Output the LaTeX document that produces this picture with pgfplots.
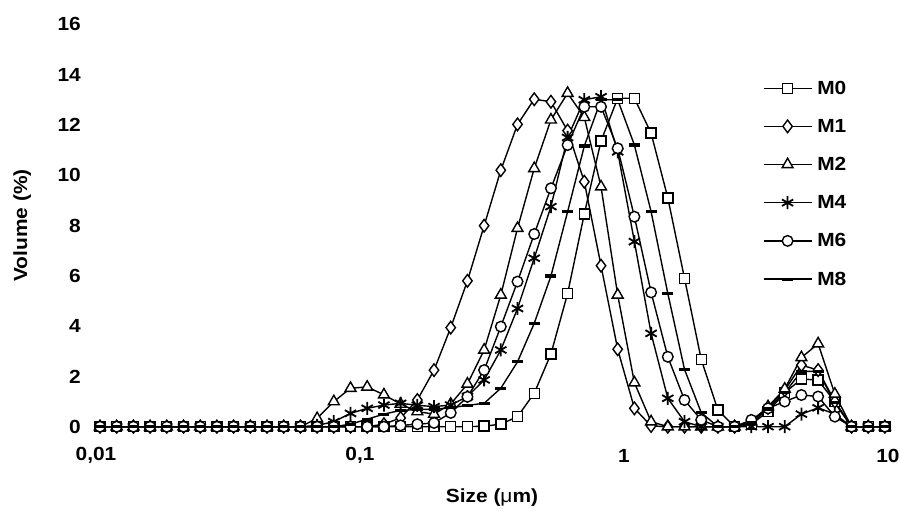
\documentclass[border=0pt]{standalone}
\usepackage{fontspec}
\setmainfont{Liberation Sans}[FakeStretch=1.1]
\usepackage{pgfplots}
\pgfplotsset{compat=1.18}
\usepackage{pgfplotstable}

\pgfplotstableread{
x        M0     M1     M2     M4     M6     M8
0.010355 0      0      0      0      0      0
0.011976 0      0      0      0      0      0
0.013856 0      0      0      0      0      0
0.016030 0      0      0      0      0      0
0.018543 0      0      0      0      0      0
0.021454 0      0      0      0      0      0
0.024817 0      0      0      0      0      0
0.028708 0      0      0      0      0      0
0.033212 0      0      0      0      0      0
0.038420 0      0      0      0      0      0
0.044446 0      0      0      0      0      0
0.051413 0      0      0      0      0      0
0.059475 0      0      0      0      0      0
0.068803 0      0      0.33   0.05   0      0
0.079595 0      0      1.0    0.2    0      0
0.092071 0      0      1.53   0.53   0      0.1
0.10648  0      0      1.58   0.73   0      0.3
0.12321  0      0.1    1.27   0.86   0      0.5
0.14253  0      0.35   0.9    0.93   0.05   0.65
0.16488  0      1.06   0.6    0.85   0.1    0.68
0.19074  0      2.25   0.5    0.8    0.15   0.7
0.22065  0      3.94   0.9    0.86   0.55   0.75
0.25525  0      5.8    1.7    1.2    1.19   0.85
0.29528  0.02   7.99   3.05   1.86   2.25   0.93
0.34158  0.1    10.2   5.24   3.05   3.98   1.53
0.39512  0.4    12.02  7.89   4.7    5.77   2.58
0.45707  1.33   13.02  10.27  6.7    7.66   4.11
0.52874  2.89   12.92  12.2   8.75   9.48   5.99
0.61163  5.3    11.77  13.26  11.5   11.2   8.55
0.70755  8.46   9.74   12.3   13.0   12.72  11.16
0.81848  11.36  6.4    9.54   13.12  12.72  13.0
0.94659  13.06  3.08   5.24   10.93  11.07  13.0
1.0950   13.06  0.73   1.75   7.36   8.35   11.2
1.2667   11.67  0.03   0.2    3.71   5.34   8.55
1.4654   9.1    0      0      1.13   2.78   5.3
1.6952   5.9    0      0      0.2    1.06   2.28
1.9610   2.68   0      0      0      0.27   0.56
2.2685   0.66   0      0      0      0      0
2.6242   0      0      0      0      0      0
3.0357   0.1    0.2    0.2    0      0.27   0.15
3.5118   0.6    0.75   0.8    0      0.73   0.7
4.0624   1.35   1.45   1.5    0      1.0    1.35
4.6995   1.9    2.45   2.75   0.5    1.26   2.2
5.4366   1.85   2.25   3.3    0.75   1.2    2.2
6.2890   1.0    1.0    1.3    0.5    0.4    0.95
7.2751   0      0      0      0      0      0
8.4159   0      0      0      0      0      0
9.7338   0      0      0      0      0      0
}\data

\begin{document}
\begin{tikzpicture}
\useasboundingbox (0,0) rectangle (901pt,522pt);
\begin{axis}[
  at={(96pt,95.3pt)}, anchor=south west,
  scale only axis, width=792pt, height=402.4pt,
  xmode=log, xmin=0.01, xmax=10, ymin=0, ymax=16,
  clip=false,
  axis line style={draw=none},
  xtick={0.01,0.1,1,10}, xticklabels={{0,01},{0,1},1,10},
  ytick={0,2,...,16},
  tick style={draw=none},
  /pgf/number format/assume math mode=true,
  ticklabel style={font=\fontsize{19}{22}\selectfont\bfseries, inner sep=0pt},
  yticklabel style={anchor=east, xshift=-15pt},
  xticklabel style={anchor=center, yshift=-29pt},
  xlabel={\bfseries Size ({\mdseries μ}m)},
  ylabel={\bfseries Volume (\%)},
  label style={font=\fontsize{19}{22}\selectfont},
  xlabel style={at={(axis description cs:0.5,-0.175)}, anchor=center},
  ylabel style={at={(axis description cs:-0.093,0.5)}, anchor=center, rotate=0},
  legend style={draw=none, fill=none, at={(rel axis cs:0.838,0.865)}, anchor=north west,
    font=\fontsize{19}{22}\selectfont\bfseries, row sep=23.5pt, column sep=5pt,
    nodes={inner sep=0pt}},
  legend cell align=left,
  legend image code/.code={\draw[mark repeat=2,mark phase=2,#1] plot coordinates {(0pt,0pt) (24pt,0pt) (48pt,0pt)};},
  every axis plot/.append style={black, line width=1.4pt, mark options={solid, fill=white, line width=1.4pt}},
]
\addplot[mark=square*, mark size=5pt] table[x=x,y=M0] {\data};
\addlegendentry{M0}
\addplot[mark=diamond*, mark size=6.3pt] table[x=x,y=M1] {\data};
\addlegendentry{M1}
\addplot[mark=triangle*, mark size=6.3pt] table[x=x,y=M2] {\data};
\addlegendentry{M2}
\addplot[mark=asterisk, mark size=6.5pt, mark options={line width=1.8pt}] table[x=x,y=M4] {\data};
\addlegendentry{M4}
\addplot[mark=*, mark size=5.3pt] table[x=x,y=M6] {\data};
\addlegendentry{M6}
\addplot[mark=-, mark size=5.5pt, mark options={line width=3.2pt}] table[x=x,y=M8] {\data};
\addlegendentry{M8}
\end{axis}
\end{tikzpicture}
\end{document}
